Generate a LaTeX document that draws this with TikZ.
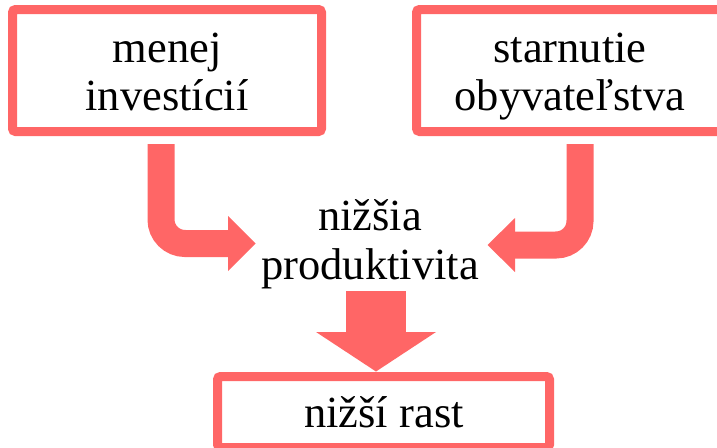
\documentclass[tikz,border=0pt]{standalone}
\usepackage{fontspec}
\setmainfont{Liberation Serif}
\definecolor{salmon}{HTML}{FF6666}
\begin{document}
\begin{tikzpicture}[x=1pt,y=-1pt,
  box/.style={draw=salmon,line width=9pt,rounded corners=3pt,inner sep=0pt},
  lbl/.style={anchor=base,inner sep=0pt,font=\fontsize{44.5}{48}\selectfont,text=black},
  bent/.style={draw=salmon,line width=27pt,rounded corners=24pt},
  head/.style={fill=salmon,draw=none}]
\useasboundingbox (0,0) rectangle (717,447);
\clip (0,0) rectangle (717,447);
% boxes
\node[box,minimum width=309pt,minimum height=122pt] (b1) at (167,70.5) {};
\node[box,minimum width=309pt,minimum height=122pt] (b2) at (571,70.5) {};
\node[box,minimum width=332pt,minimum height=71pt] (b3) at (383.5,412) {};
% texts
\node[lbl] (t1a) at (167,62) {menej};
\node[lbl] (t1b) at (167,110) {investícií};
\node[lbl] (t2a) at (570,62) {starnutie};
\node[lbl] (t2b) at (570,110) {obyvateľstva};
\node[lbl] (t3a) at (370,230) {nižšia};
\node[lbl] (t3b) at (370,279) {produktivita};
\node[lbl] (t4) at (384,427) {nižší rast};
% left bent arrow
\coordinate (l0) at (161,144);
\coordinate (l1) at (161,243.5);
\coordinate (l2) at (229,243.5);
\draw[bent] (l0) -- (l1) -- (l2);
\fill[head] (228,216) -- (255.5,243.5) -- (228,271) -- cycle;
% right bent arrow
\coordinate (r0) at (580,144);
\coordinate (r1) at (580,245);
\coordinate (r2) at (514,245);
\draw[bent] (r0) -- (r1) -- (r2);
\fill[head] (515,218) -- (487.5,245) -- (515,272) -- cycle;
% down arrow
\fill[head] (346,291) rectangle (406,333);
\fill[head] (316,332) -- (436,332) -- (376,371.5) -- cycle;
\end{tikzpicture}
\end{document}
